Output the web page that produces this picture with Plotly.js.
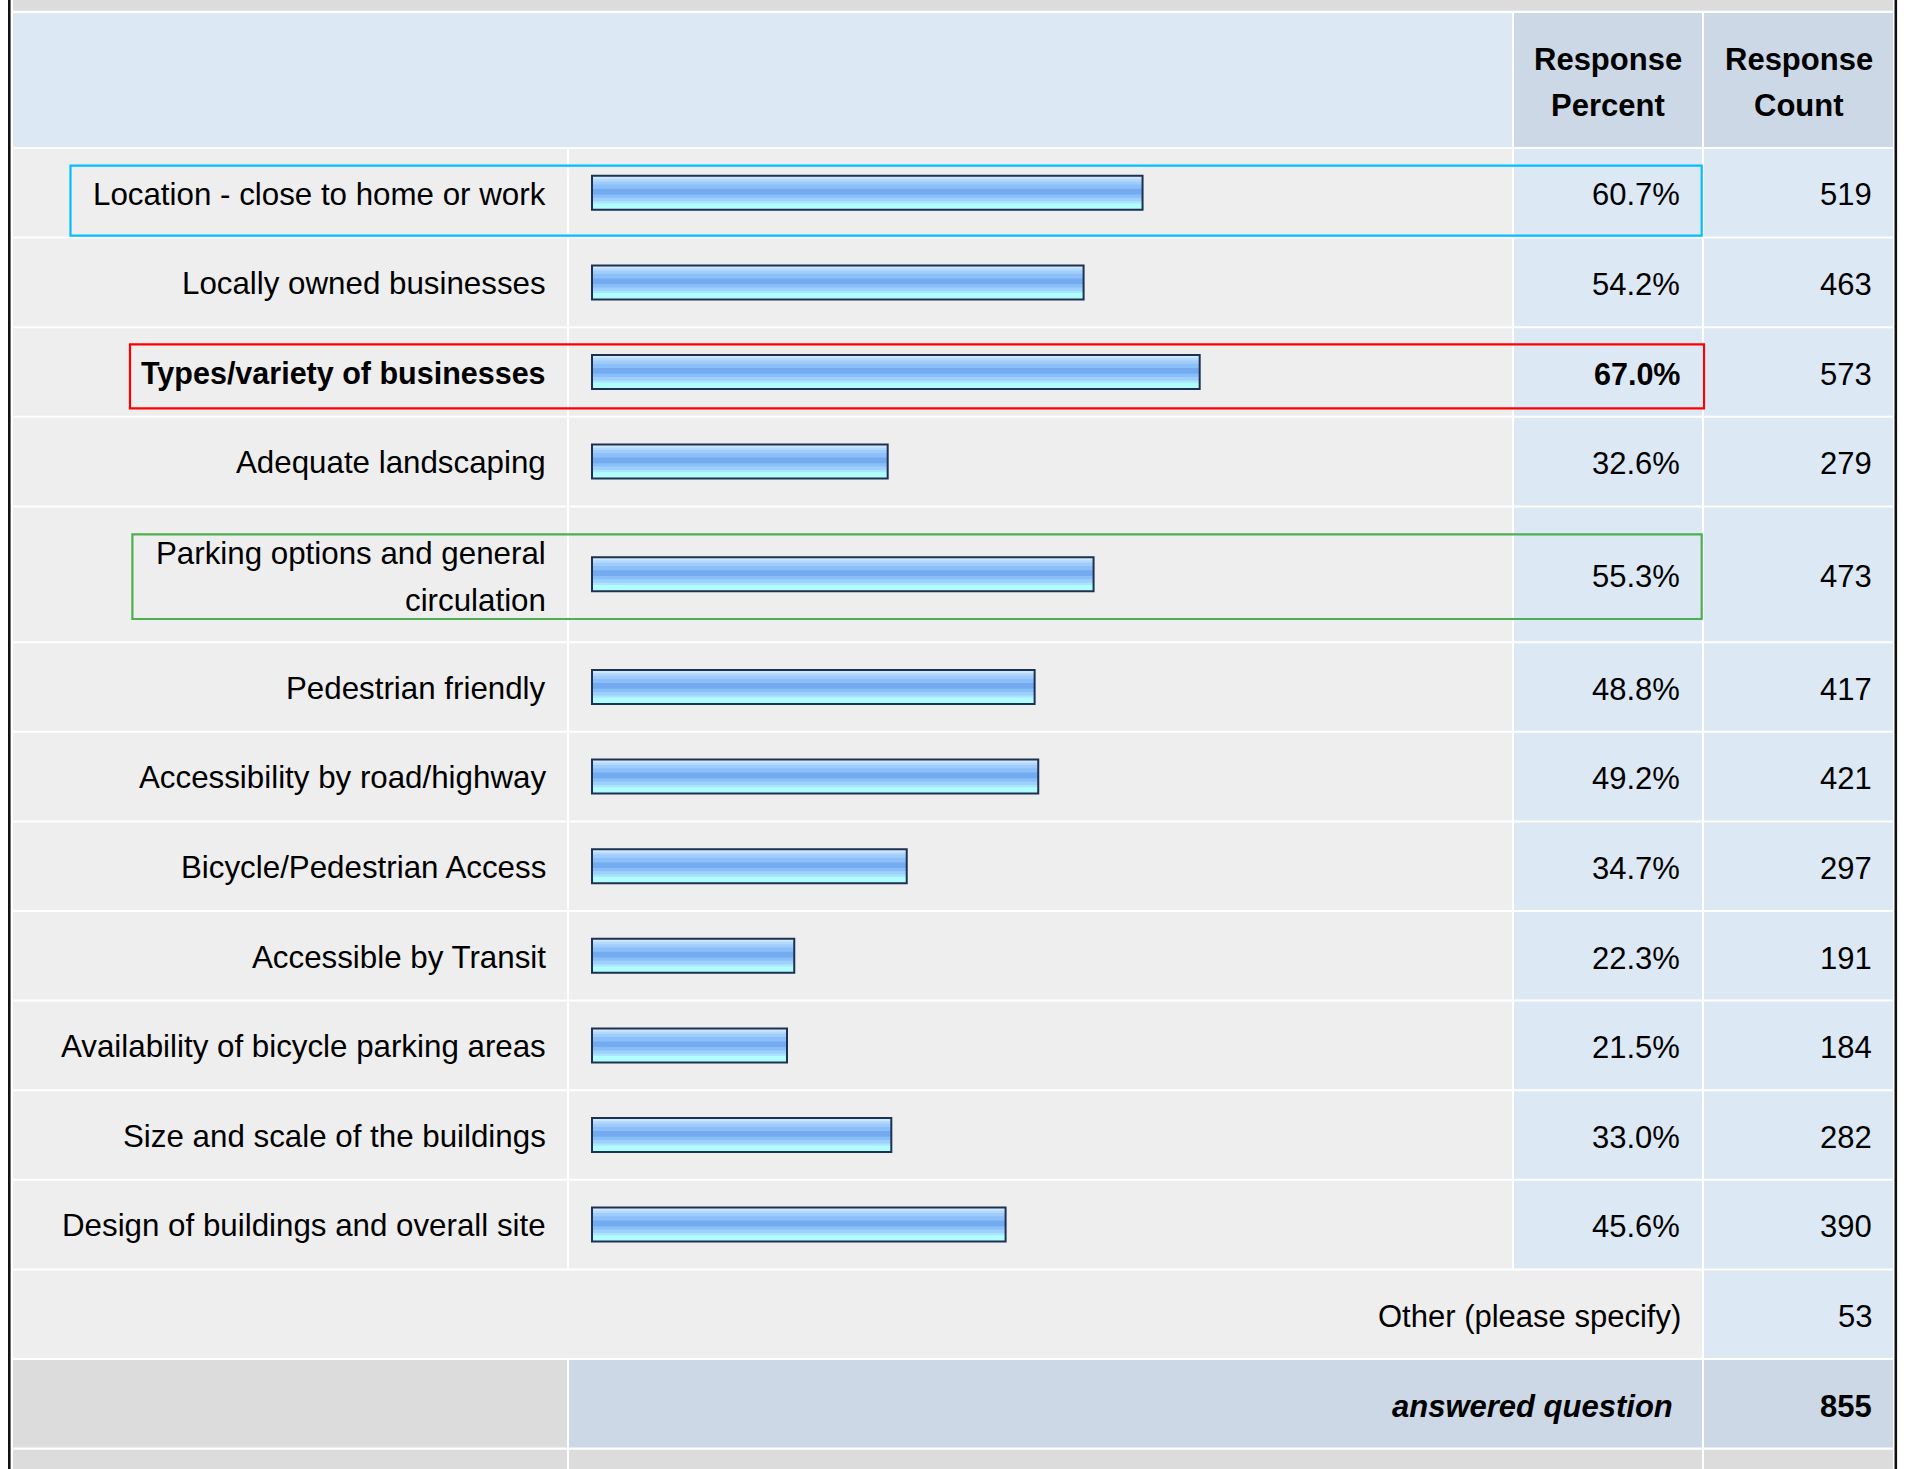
<!DOCTYPE html>
<html>
<head>
<meta charset="utf-8">
<script src="https://cdn.plot.ly/plotly-3.0.1.min.js"></script>
<style>
  html, body { margin: 0; padding: 0; background: #ffffff; }
  #chart { width: 1907px; height: 1469px; }
</style>
</head>
<body>
<div id="chart"></div>
<script>
// ---------------- DATA ----------------
const categories = [
  "Location - close to home or work",
  "Locally owned businesses",
  "Types/variety of businesses",
  "Adequate landscaping",
  "Parking options and general<br>circulation",
  "Pedestrian friendly",
  "Accessibility by road/highway",
  "Bicycle/Pedestrian Access",
  "Accessible by Transit",
  "Availability of bicycle parking areas",
  "Size and scale of the buildings",
  "Design of buildings and overall site"
];
const responsePercent = [60.7, 54.2, 67.0, 32.6, 55.3, 48.8, 49.2, 34.7, 22.3, 21.5, 33.0, 45.6];
const responseCount   = [519, 463, 573, 279, 473, 417, 421, 297, 191, 184, 282, 390];
const headerLabels = ["Response<br>Percent", "Response<br>Count"];
const otherLabel = "Other (please specify)";
const otherCount = 53;
const answeredLabel = "answered question";
const answeredCount = 855;
const boldIndex = 2;                 // row shown in bold
const highlights = [                 // [row index, colour]
  [0, "#00bfff"],
  [2, "#ff0000"],
  [4, "#4caf50"]
];

// ---------------- LAYOUT / STYLE ----------------
const W = 1907, H = 1469;
const FONT = '"Liberation Sans", Arial, Helvetica, sans-serif';
const FS = 31;
const FS_LABEL = 31.3, FS_LABEL_BOLD = 30.5;
const ROW_H = 89.6, LINE_GAP = 46.2;
const TEXT_DY = 2.2;
const COL = { label: [13, 567], bar: [569, 1512], pct: [1514, 1702], cnt: [1704, 1893] };
const X_ZERO_PX = 592, PX_PER_PCT = 9.07;
const C_ROW = "#eeeeee", C_NUM = "#dde8f5", C_HEAD = "#ccd8e6", C_GRAY = "#dcdcdc";

const px = x => x / W;
const py = y => 1 - y / H;

// row boundaries
const lineCounts = categories.map(c => c.split("<br>").length);
const rowTops = [], rowBots = [];
let cur = 148;
lineCounts.forEach(n => {
  rowTops.push(cur);
  cur += ROW_H + (n - 1) * LINE_GAP;
  rowBots.push(cur);
});
const otherTop = cur; cur += ROW_H; const otherBot = cur;
const ansTop = cur; cur += ROW_H; const ansBot = cur;
const rowCenters = rowTops.map((t, i) => (t + rowBots[i]) / 2);

const shapes = [];
function cell(x0, x1, y0, y1, color) {
  shapes.push({ type: "rect", xref: "paper", yref: "paper", layer: "below",
    x0: px(x0), x1: px(x1), y0: py(y0), y1: py(y1),
    fillcolor: color, line: { width: 0 } });
}
// top band & header
cell(13, 1893, 0, 10.7, C_GRAY);
cell(13, COL.bar[1], 13, 147, C_NUM);
cell(COL.pct[0], COL.pct[1], 13, 147, C_HEAD);
cell(COL.cnt[0], COL.cnt[1], 13, 147, C_HEAD);
// data rows
rowTops.forEach((t, i) => {
  const b = rowBots[i];
  cell(COL.label[0], COL.label[1], t + 1, b - 1, C_ROW);
  cell(COL.bar[0], COL.bar[1], t + 1, b - 1, C_ROW);
  cell(COL.pct[0], COL.pct[1], t + 1, b - 1, C_NUM);
  cell(COL.cnt[0], COL.cnt[1], t + 1, b - 1, C_NUM);
});
// other row
cell(COL.label[0], COL.pct[1], otherTop + 1, otherBot - 1, C_ROW);
cell(COL.cnt[0], COL.cnt[1], otherTop + 1, otherBot - 1, C_NUM);
// answered row
cell(COL.label[0], COL.label[1], ansTop + 1, ansBot - 1, C_GRAY);
cell(COL.bar[0], COL.pct[1], ansTop + 1, ansBot - 1, C_HEAD);
cell(COL.cnt[0], COL.cnt[1], ansTop + 1, ansBot - 1, C_HEAD);
// bottom partial row
cell(COL.label[0], COL.label[1], ansBot + 1.2, H, C_GRAY);
cell(COL.bar[0], COL.pct[1], ansBot + 1.2, H, C_GRAY);
cell(COL.cnt[0], COL.cnt[1], ansBot + 1.2, H, C_GRAY);
// outer black frame lines
[9.3, 1895.8].forEach(x => shapes.push({ type: "line", xref: "paper", yref: "paper", layer: "above",
  x0: px(x), x1: px(x), y0: 0, y1: 1, line: { color: "#111111", width: 2.6 } }));

// highlight boxes
const hlGeom = { 0: [70.5, 1701.7, 165.7, 235.7], 2: [130, 1704, 344.3, 408.3], 4: [132.4, 1701.7, 534.3, 619] };
highlights.forEach(([idx, color]) => {
  const g = hlGeom[idx];
  shapes.push({ type: "rect", xref: "paper", yref: "paper", layer: "above",
    x0: px(g[0]), x1: px(g[1]), y0: py(g[2]), y1: py(g[3]),
    fillcolor: "rgba(0,0,0,0)", line: { color: color, width: 2.2 } });
});

// annotations
const annotations = [];
function txt(x, y, text, opts, size) {
  annotations.push(Object.assign({
    xref: "paper", yref: "paper", x: px(x), y: py(y), text: text,
    showarrow: false, xanchor: "right", yanchor: "middle",
    font: { family: FONT, size: size || FS, color: "#000000" }, borderpad: 0
  }, opts || {}));
}
// header
headerLabels.forEach((h, k) => {
  const col = k === 0 ? COL.pct : COL.cnt;
  const cx = (col[0] + col[1]) / 2;
  const lines = h.split("<br>");
  lines.forEach((ln, j) => {
    txt(cx, 82.5 + (j - (lines.length - 1) / 2) * 47, "<b>" + ln + "</b>", { xanchor: "center" });
  });
});
// row labels, percents, counts
categories.forEach((c, i) => {
  const lines = c.split("<br>");
  const multi = lines.length > 1;
  lines.forEach((ln, j) => {
    const bold = i === boldIndex;
    const t = bold ? "<b>" + ln + "</b>" : ln;
    const dy = multi ? 2.7 + (j - (lines.length - 1) / 2) * 46.5 : 1.2;
    txt(547, rowCenters[i] + dy, t, null, bold ? FS_LABEL_BOLD : FS_LABEL);
  });
  const p = responsePercent[i].toFixed(1) + "%";
  const pb = i === boldIndex;
  txt(1681, rowCenters[i] + TEXT_DY, pb ? "<b>" + p + "</b>" : p, null, pb ? FS_LABEL_BOLD : FS);
  txt(1873, rowCenters[i] + TEXT_DY, String(responseCount[i]));
});
txt(1682, (otherTop + otherBot) / 2 + TEXT_DY, otherLabel);
txt(1873, (otherTop + otherBot) / 2 + TEXT_DY, String(otherCount));
txt(1674, (ansTop + ansBot) / 2 + TEXT_DY + 1, "<b><i>" + answeredLabel + "</i></b>");
txt(1873, (ansTop + ansBot) / 2 + TEXT_DY + 1, "<b>" + answeredCount + "</b>");

// ---------------- BARS ----------------
const INNER = 32;
const bands = [
  [0, 2.3, "#cfe7fd"], [2.3, 4.7, "#b3dafe"], [4.7, 8, "#9fccfc"], [8, 12.3, "#8bbff8"],
  [12.3, 18, "#74abf0"], [18, 21.3, "#89bff8"], [21.3, 24.7, "#9dd0fc"], [24.7, 27, "#a9e5ff"],
  [27, 32, "#b1fdfd"]
];
const traces = bands.map(([a, b, color]) => ({
  type: "bar", orientation: "h", x: responsePercent, y: rowCenters,
  offset: -INNER / 2 + a - 0.3, width: (b - a) + 0.6,
  marker: { color: color, line: { width: 0 } }, hoverinfo: "skip", showlegend: false
}));
traces.push({
  type: "bar", orientation: "h", x: responsePercent, y: rowCenters,
  offset: -(INNER + 2) / 2, width: INNER + 2,
  marker: { color: "rgba(0,0,0,0)", line: { color: "#1d3153", width: 2 } },
  hoverinfo: "skip", showlegend: false
});

const layout = {
  width: W, height: H,
  margin: { l: 0, r: 0, t: 0, b: 0, pad: 0 },
  paper_bgcolor: "#ffffff", plot_bgcolor: "rgba(0,0,0,0)",
  barmode: "overlay", showlegend: false,
  xaxis: { range: [-X_ZERO_PX / PX_PER_PCT, (W - X_ZERO_PX) / PX_PER_PCT], visible: false, fixedrange: true },
  yaxis: { range: [H, 0], visible: false, fixedrange: true },
  shapes: shapes, annotations: annotations,
  font: { family: FONT, size: FS, color: "#000000" }
};
Plotly.newPlot("chart", traces, layout, { staticPlot: true, displayModeBar: false });
</script>
</body>
</html>
